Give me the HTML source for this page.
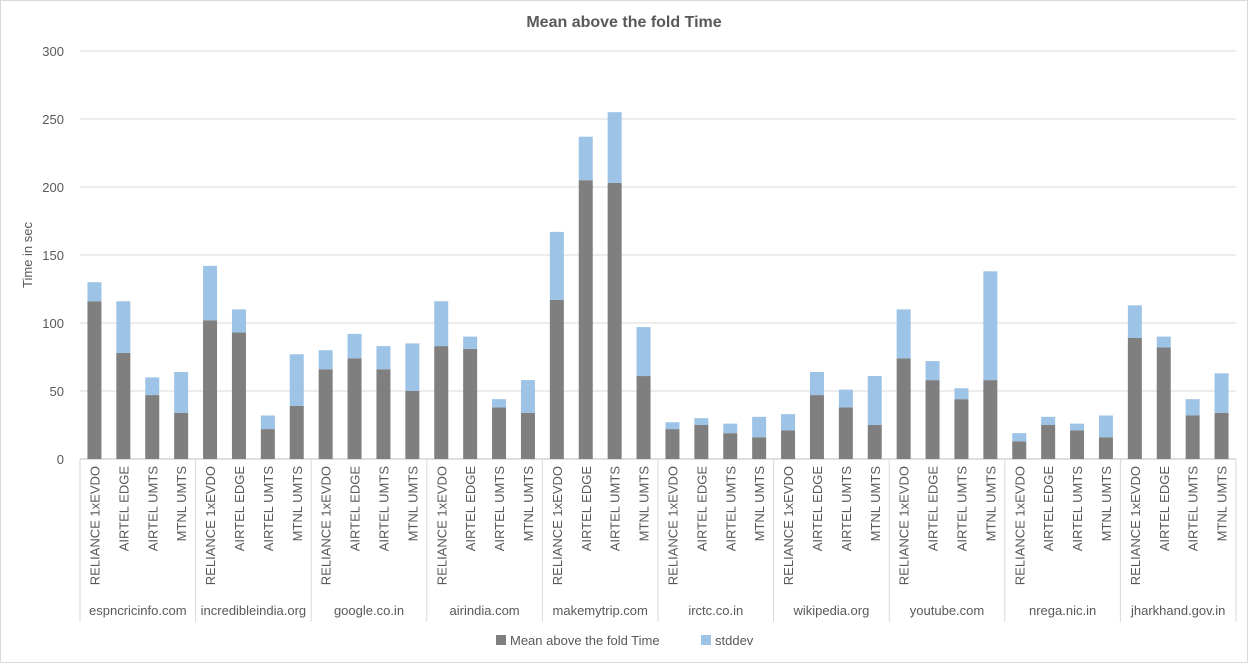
<!DOCTYPE html>
<html><head><meta charset="utf-8"><style>
body{margin:0;background:#fff;}
svg{display:block;font-family:"Liberation Sans",sans-serif;}
</style></head><body>
<svg id="chart" width="1248" height="663">
<rect x="0.5" y="0.5" width="1247" height="662" fill="#fff" stroke="#d9d9d9"/>
<text x="624" y="27" text-anchor="middle" font-size="16" font-weight="bold" fill="#595959">Mean above the fold Time</text>
<text transform="translate(32,255) rotate(-90)" text-anchor="middle" font-size="13" fill="#595959">Time in sec</text>
<g id="grid"></g><g id="bars"></g><g id="xaxis"></g>
<g>
<rect x="496" y="635" width="10" height="10" fill="#7f7f7f"/>
<text x="510" y="645" font-size="13" fill="#595959">Mean above the fold Time</text>
<rect x="701" y="635" width="10" height="10" fill="#9dc3e6"/>
<text x="715" y="645" font-size="13" fill="#595959">stddev</text>
</g>
</svg>
<script>
const groups=["espncricinfo.com","incredibleindia.org","google.co.in","airindia.com","makemytrip.com","irctc.co.in","wikipedia.org","youtube.com","nrega.nic.in","jharkhand.gov.in"];
const carriers=["RELIANCE 1xEVDO","AIRTEL EDGE","AIRTEL UMTS","MTNL UMTS"];
const meanVals=[116,78,47,34, 102,93,22,39, 66,74,66,50, 83,81,38,34, 117,205,203,61, 22,25,19,16, 21,47,38,25, 74,58,44,58, 13,25,21,16, 89,82,32,34];
const stdVals=[14,38,13,30, 40,17,10,38, 14,18,17,35, 33,9,6,24, 50,32,52,36, 5,5,7,15, 12,17,13,36, 36,14,8,80, 6,6,5,16, 24,8,12,29];
const yTicks=[0,50,100,150,200,250,300];
const NS="http://www.w3.org/2000/svg";
const L=80,R=1236,T=51,B=459,yMax=300;
const y=v=>B-(v/yMax)*(B-T);
const n=groups.length*carriers.length, bw=(R-L)/n;
const x=i=>L+bw*i+bw/2;
function mk(t,a,p){const e=document.createElementNS(NS,t);for(const k in a)e.setAttribute(k,a[k]);p.appendChild(e);return e;}
const grid=document.getElementById('grid'),bars=document.getElementById('bars'),xa=document.getElementById('xaxis');
yTicks.forEach(v=>{
 const l=mk('line',{x1:L,x2:R,y1:y(v),y2:y(v),stroke:v===0?'#bfbfbf':'#d9d9d9'},grid);
 
 
 const t=mk('text',{x:64,y:y(v)+5,'text-anchor':'end','font-size':13,fill:'#595959'},grid);
 t.textContent=v;
 
 
});
meanVals.forEach((m,i)=>{
 const s=stdVals[i];
 const r1=mk('rect',{x:x(i)-7,width:14,y:y(m),height:B-y(m),fill:'#7f7f7f'},bars);
 
 
 const r2=mk('rect',{x:x(i)-7,width:14,y:y(m+s),height:y(m)-y(m+s),fill:'#9dc3e6'},bars);
 
 
 const t=mk('text',{transform:`translate(${x(i)+5},466) rotate(-90)`,'text-anchor':'end','font-size':13,fill:'#595959'},xa);
 t.textContent=carriers[i%4];
 
 
});
const gw=(R-L)/groups.length;
for(let g=0;g<=groups.length;g++){
 const l=mk('line',{x1:L+gw*g,x2:L+gw*g,y1:B,y2:622,stroke:'#d9d9d9'},xa);
 
 
}
groups.forEach((gname,g)=>{
 const t=mk('text',{x:L+gw*g+gw/2,y:615,'text-anchor':'middle','font-size':13,fill:'#595959'},xa);
 t.textContent=gname;
 
 
});
</script>
</body></html>
